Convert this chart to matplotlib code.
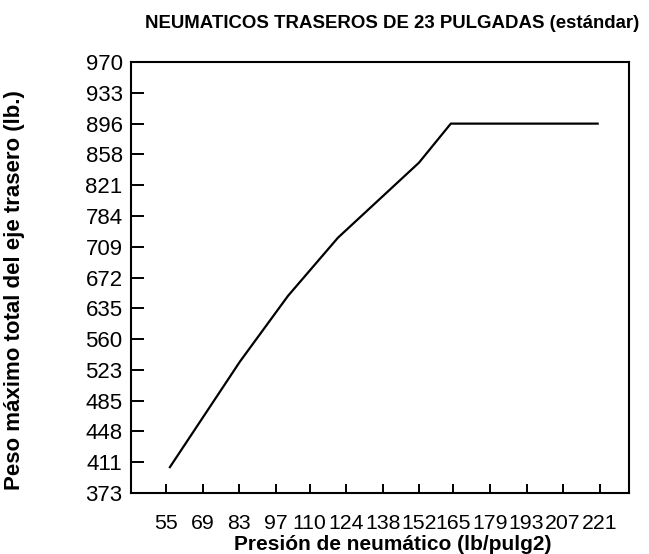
import numpy as np
import matplotlib
matplotlib.use("Agg")
import matplotlib.pyplot as plt

plt.rcParams['font.family'] = ['Liberation Sans', 'DejaVu Sans']

# tick labels (y labels are evenly spaced, not linear)
x_ticks = [55, 69, 83, 97, 110, 124, 138, 152, 165, 179, 193, 207, 221]
y_labels = [373, 411, 448, 485, 523, 560, 635, 672, 709, 784, 821, 858, 896, 933, 970]

# curve: pressure (lb/pulg2) vs max load (lb)
presion = [56.5, 83.3, 101.7, 120.8, 151.8, 164.0, 220.2]
peso = [405, 533, 650, 731, 848, 896, 896]

# map load values onto the evenly spaced label positions
y_pos = np.interp(peso, y_labels, np.arange(len(y_labels)))

fig = plt.figure(figsize=(6.49, 5.54), dpi=100)
ax = fig.add_axes([0.2018, 0.110, 0.767, 0.778])

ax.plot(presion, y_pos, color='black', lw=1.6)

ax.set_xlim(41.6, 232.1)
ax.set_ylim(0, 14)
ax.set_xticks(x_ticks)
ax.set_xticklabels([str(v) for v in x_ticks], fontsize=15.3)
ax.set_yticks(np.arange(len(y_labels)))
ax.set_yticklabels([str(v) for v in y_labels], fontsize=16)

ax.tick_params(axis='y', direction='in', length=9, width=1.4, pad=6)
ax.tick_params(axis='x', direction='in', length=6.5, width=1.4, pad=15)
for s in ax.spines.values():
    s.set_linewidth(1.5)

ax.set_xlabel('Presión de neumático (lb/pulg2)', fontsize=15, fontweight='bold')
ax.xaxis.set_label_coords(0.525, -0.098)
ax.set_ylabel('Peso máximo total del eje trasero (lb.)', fontsize=16, fontweight='bold')
ax.yaxis.set_label_coords(-0.212, 0.47)

fig.text(0.604, 0.958, 'NEUMATICOS TRASEROS DE 23 PULGADAS (estándar)', fontsize=13.4,
         fontweight='bold', ha='center', va='center')

fig.savefig('out.png', dpi=100)
